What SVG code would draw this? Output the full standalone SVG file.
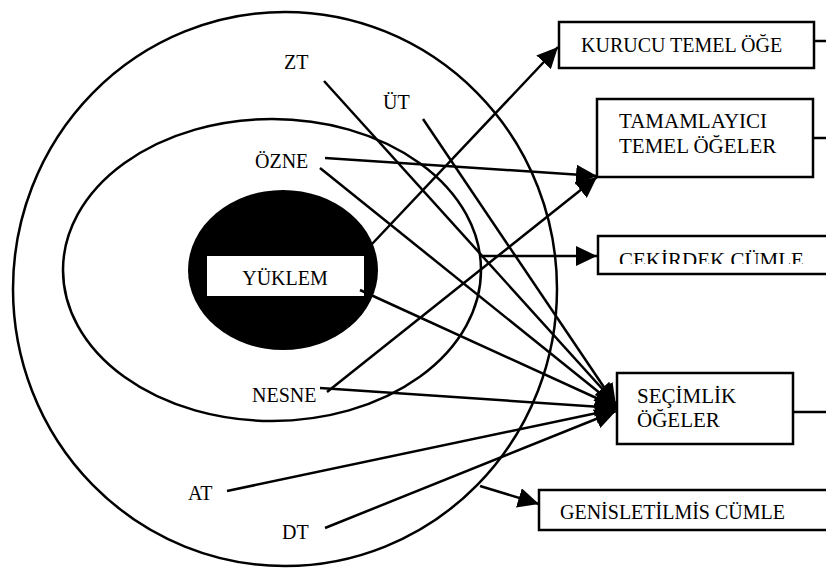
<svg xmlns="http://www.w3.org/2000/svg" width="826" height="573" viewBox="0 0 826 573">
<style>
text{font-family:'Liberation Serif','Times New Roman',serif;font-size:21px;fill:#000}
.s{font-size:20px}
.box{fill:#fff;stroke:#000;stroke-width:2.5}
.ring{fill:none;stroke:#000;stroke-width:2.5}
.c{stroke:#000;stroke-width:2.5;fill:none}
.a{marker-end:url(#ah)}
</style>
<defs>
<marker id="ah" markerUnits="userSpaceOnUse" markerWidth="22" markerHeight="20" refX="21" refY="10" orient="auto">
<path d="M0,0 L21,10 L0,20 z" fill="#000"/>
</marker>
<clipPath id="clipC"><rect x="598" y="236" width="240" height="28"/></clipPath>
</defs>
<rect width="826" height="573" fill="#fff"/>
<g id="rings">
<ellipse id="outer" class="ring" cx="285" cy="289" rx="272" ry="277"/>
<ellipse id="inner" class="ring" cx="272" cy="270" rx="209" ry="151"/>
</g>
<g id="yuklem">
<ellipse cx="283" cy="270" rx="95" ry="80" fill="#000"/>
<rect x="207" y="256" width="157" height="40" fill="#fff"/>
<text class="s" x="285" y="285" text-anchor="middle">YÜKLEM</text>
</g>
<g id="labels">
<text id="zt" class="s" x="284" y="69">ZT</text>
<text id="ut" class="s" x="383" y="109">ÜT</text>
<text id="ozne" class="s" x="255" y="168">ÖZNE</text>
<text id="nesne" class="s" x="252" y="402">NESNE</text>
<text id="at" class="s" x="188" y="500">AT</text>
<text id="dt" class="s" x="282" y="539">DT</text>
</g>
<g id="connectors">
<line class="c a" x1="372" y1="244" x2="558" y2="47"/>
<line class="c a" x1="325" y1="158" x2="597" y2="176"/>
<line class="c a" x1="327" y1="392" x2="597" y2="177"/>
<line class="c a" x1="480" y1="256" x2="597" y2="256"/>
<line class="c a" x1="324" y1="81" x2="616" y2="404"/>
<line class="c a" x1="423" y1="119" x2="616" y2="405"/>
<line class="c a" x1="320" y1="168" x2="616" y2="406"/>
<line class="c a" x1="360" y1="290" x2="616" y2="407"/>
<line class="c a" x1="320" y1="388" x2="616" y2="408"/>
<line class="c a" x1="227" y1="491" x2="616" y2="409"/>
<line class="c a" x1="325" y1="528" x2="616" y2="411"/>
<line class="c a" x1="480" y1="486" x2="539" y2="504"/>
<line class="c" x1="814" y1="41" x2="826" y2="41"/>
<line class="c" x1="813" y1="138" x2="826" y2="138"/>
<line class="c" x1="793" y1="412" x2="826" y2="412"/>
</g>
<g id="kurucu">
<rect class="box" x="559" y="22" width="255" height="46"/>
<text class="s" x="581" y="52">KURUCU TEMEL ÖĞE</text>
</g>
<g id="tamamlayici">
<rect class="box" x="597" y="99" width="216" height="78"/>
<text x="619" y="128">TAMAMLAYICI</text>
<text x="619" y="153">TEMEL ÖĞELER</text>
</g>
<g id="cekirdek">
<rect class="box" x="598" y="236" width="240" height="38"/>
<text x="619" y="267" clip-path="url(#clipC)">CEKİRDEK CÜMLE</text>
</g>
<g id="secimlik">
<rect class="box" x="617" y="373" width="176" height="71"/>
<text x="637" y="403">SEÇİMLİK</text>
<text x="637" y="427">ÖĞELER</text>
</g>
<g id="genisletilmis">
<rect class="box" x="539" y="490" width="300" height="40"/>
<text class="s" x="560" y="519">GENİSLETİLMİS CÜMLE</text>
</g>
</svg>
